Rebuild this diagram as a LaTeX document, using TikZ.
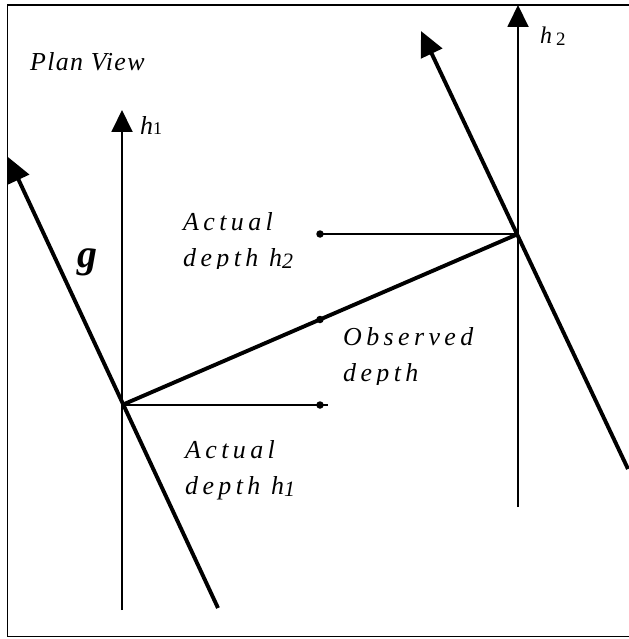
\documentclass[tikz,border=0pt]{standalone}
\usepackage{fontspec}
\setmainfont{Liberation Serif}
\newfontfamily\labelfont[LetterSpace=17]{Liberation Serif}
\newfontfamily\titlefont[LetterSpace=5]{Liberation Serif}
\usetikzlibrary{arrows.meta,calc}

\begin{document}
\begin{tikzpicture}[
  x=1bp,y=-1bp,
  thinline/.style={line width=1.9bp},
  thickline/.style={line width=3.9bp},
  axistip/.style={-{Triangle[length=22bp,width=21bp]}},
  gtip/.style={-{Triangle[length=25bp,width=23bp]}},
  dot/.style={circle,fill,inner sep=0pt,minimum size=7.5bp},
  lbl/.style={font=\labelfont\itshape\fontsize{26}{36}\selectfont,align=left,anchor=base west,inner sep=0pt}
]
\useasboundingbox (0,0) rectangle (629,639);
% frame (open on the right)
\draw[thinline] (640,5) -- (7.5,5) -- (7.5,636.5) -- (640,636.5);

\coordinate (p1) at (122,405);
\coordinate (p2) at (518,234);
\coordinate (h1bot) at (122,610);
\coordinate (h1top) at (122,110);
\coordinate (h2bot) at (518,507);
\coordinate (h2top) at (518,5);
\coordinate (g1bot) at (218,608);
\coordinate (g1top) at (8,157);
\coordinate (g2bot) at (628,469);
\coordinate (g2top) at (421,31);

\node[dot] (dlow) at (320,405) {};
\node[dot] (dobs) at ($(p1)!0.5!(p2)$) {};
\node[dot] (dup) at (320,234) {};

% depth axes
\draw[thinline,axistip] (h1bot) -- (h1top);
\draw[thinline,axistip] (h2bot) -- (h2top);
\node[anchor=base west,inner sep=0pt,font=\fontsize{26}{26}\selectfont] (h1lbl) at (140,135) {\textit{h}{\fontsize{18}{18}\selectfont 1}};
\node[anchor=base west,inner sep=0pt,font=\fontsize{24}{24}\selectfont] (h2lbl) at (540,44) {\textit{h}\,{\fontsize{19}{19}\selectfont\raisebox{-1.5bp}{2}}};

% gradient direction
\draw[thickline,gtip] (g1bot) -- (g1top);
\draw[thickline,gtip] (g2bot) -- (g2top);
\node[anchor=base west,inner sep=0pt,font=\fontsize{40}{40}\selectfont\bfseries\itshape] (glbl) at (77,267) {g};

% depths
\draw[thinline] (p1) -- ($(dlow.center)+(8,0)$);
\draw[thinline] (dup.center) -- (p2);
\draw[thickline] (p1) -- (p2);

\node[anchor=base west,inner sep=0pt,font=\titlefont\itshape\fontsize{26}{26}\selectfont] (plan) at (30,71) {Plan View};

\begin{scope}
  \clip (150,190) rectangle (330,268);
  \node[lbl] (act2) at (183,266) {Actual\\depth h{\fontsize{22}{22}\selectfont\raisebox{-2bp}{2}}};
\end{scope}
\begin{scope}
  \clip (330,300) rectangle (500,384);
  \node[lbl] (obs) at (343,381) {Observed\\depth};
\end{scope}
\begin{scope}
  \clip (150,420) rectangle (330,500);
  \node[lbl] (act1) at (185,494) {Actual\\depth h{\fontsize{22}{22}\selectfont\raisebox{-2bp}{1}}};
\end{scope}
\end{tikzpicture}
\end{document}
